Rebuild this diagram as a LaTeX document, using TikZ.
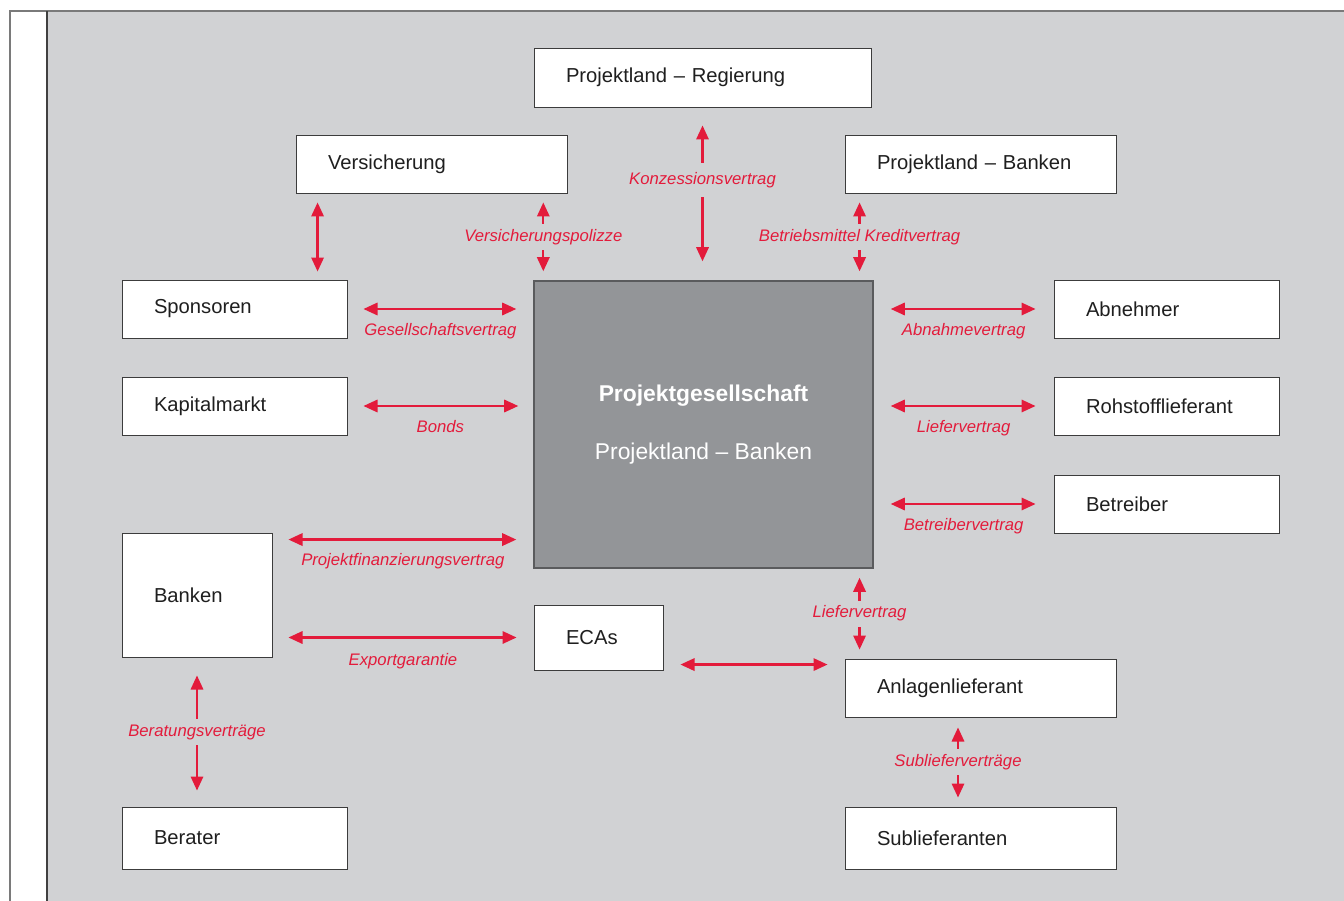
\documentclass[tikz,border=0pt]{standalone}
\usepackage{fontspec}
\setmainfont{Liberation Sans}
\usetikzlibrary{arrows.meta, calc}
\definecolor{bggray}{HTML}{D1D2D4}
\definecolor{pggray}{HTML}{939598}
\definecolor{pgline}{HTML}{5A5B5D}
\definecolor{arrred}{HTML}{E31B3B}
\definecolor{boxline}{HTML}{3C3C3C}
\definecolor{framegray}{HTML}{7A7A7A}

\begin{document}
\begin{tikzpicture}[>={Triangle[length=8pt,width=7pt]},
        box/.style={draw=boxline, line width=0.5pt, fill=white, inner xsep=0.64cm, inner ysep=0pt, align=left, text=black!88, font=\fontsize{11.5}{13.8}\selectfont, minimum height=1.16cm},
        rel/.style={<->, draw=arrred, line width=1.3pt},
        lbl/.style={text=arrred, font=\itshape\fontsize{9.5}{11}\selectfont},
        cut/.style={lbl, fill=bggray, inner xsep=1pt, inner ysep=3pt}]
        \useasboundingbox (0,0) rectangle (26.88,-18.02);
        \fill[bggray] (0.94,-0.22) rectangle (26.88,-18.02);
        \draw[framegray, line width=0.6pt] (0.2,-18.02) -- (0.2,-0.22) -- (26.88,-0.22);
        \draw[black!75, line width=0.6pt] (0.94,-0.22) -- (0.94,-18.02);

        \node[draw=pgline, line width=0.8pt, fill=pggray, minimum width=6.78cm, minimum height=5.74cm, align=center, text=white, font=\fontsize{13}{15.6}\selectfont] (pg) at (14.07,-8.49) {\textbf{Projektgesellschaft}\\[17pt]Projektland – Banken};

        \node[box, text width=5.46cm, minimum height=1.18cm] (reg) at (14.05,-1.55) {Projektland – Regierung};
        \node[box, text width=4.14cm] (vers) at (8.63,-3.28) {Versicherung};
        \node[box, text width=4.14cm] (plb) at (19.61,-3.28) {Projektland – Banken};
        \node[box, text width=3.22cm] (spon) at (4.69,-6.18) {Sponsoren};
        \node[box, text width=3.22cm] (kap) at (4.69,-8.12) {Kapitalmarkt};
        \node[box, text width=1.72cm, minimum height=2.48cm] (bank) at (3.94,-11.9) {Banken};
        \node[box, text width=3.22cm, minimum height=1.24cm] (ber) at (4.69,-16.76) {Berater};
        \node[box, text width=3.22cm] (abn) at (23.33,-6.18) {Abnehmer};
        \node[box, text width=3.22cm] (roh) at (23.33,-8.12) {Rohstofflieferant};
        \node[box, text width=3.22cm] (betr) at (23.33,-10.08) {Betreiber};
        \node[box, text width=1.3cm, minimum height=1.3cm] (eca) at (11.97,-12.75) {ECAs};
        \node[box, text width=4.14cm] (anl) at (19.61,-13.76) {Anlagenlieferant};
        \node[box, text width=4.14cm, minimum height=1.24cm] (sub) at (19.61,-16.76) {Sublieferanten};

        \draw[rel, shorten <=0.36cm, shorten >=0.38cm] (reg.south) -- (reg.south |- pg.north) node[cut, pos=0.42, inner ysep=5pt] {Konzessionsvertrag};
        \draw[rel, shorten <=0.18cm, shorten >=0.18cm] ($(vers.south -| pg.west)+(0.2,0)$) -- ($(pg.north west)+(0.2,0)$) node[cut, midway] {Versicherungspolizze};
        \draw[rel, shorten <=0.18cm, shorten >=0.18cm] ($(plb.south west)+(0.3,0)$) -- ($(plb.south west |- pg.north)+(0.3,0)$) node[cut, midway] {Betriebsmittel Kreditvertrag};
        \draw[rel, shorten <=0.18cm, shorten >=0.16cm] ($(vers.south west)+(0.44,0)$) -- ($(vers.south west |- spon.north)+(0.44,0)$);

        \draw[rel, shorten <=0.32cm, shorten >=0.34cm] (spon.east) -- (spon.east -| pg.west) node[lbl, midway, below=4pt] {Gesellschaftsvertrag};
        \draw[rel, shorten <=0.32cm, shorten >=0.3cm] (kap.east) -- (kap.east -| pg.west) node[lbl, midway, below=4pt] {Bonds};
        \draw[rel, shorten <=0.32cm, shorten >=0.34cm] ($(bank.north east)+(0,-0.14)$) -- ($(bank.north east -| pg.west)+(0,-0.14)$) node[lbl, midway, below=4pt] {Projektfinanzierungsvertrag};
        \draw[rel, shorten <=0.32cm, shorten >=0.34cm] (bank.east |- eca.west) -- (eca.west) node[lbl, midway, below=5pt] {Exportgarantie};
        \draw[rel, shorten <=0.34cm, shorten >=0.34cm] ($(eca.east |- anl.north)+(0,-0.12)$) -- ($(anl.north west)+(0,-0.12)$);

        \draw[rel, shorten <=0.34cm, shorten >=0.36cm] (pg.east |- abn.west) -- (abn.west) node[lbl, midway, below=4pt] {Abnahmevertrag};
        \draw[rel, shorten <=0.34cm, shorten >=0.36cm] (pg.east |- roh.west) -- (roh.west) node[lbl, midway, below=4pt] {Liefervertrag};
        \draw[rel, shorten <=0.34cm, shorten >=0.36cm] (pg.east |- betr.west) -- (betr.west) node[lbl, midway, below=4pt] {Betreibervertrag};

        \draw[rel, shorten <=0.18cm, shorten >=0.18cm] ($(anl.north west |- pg.south)+(0.3,0)$) -- ($(anl.north west)+(0.3,0)$) node[cut, midway] {Liefervertrag};
        \draw[rel, shorten <=0.2cm, shorten >=0.18cm] ($(anl.south)+(-0.45,0)$) -- ($(sub.north)+(-0.45,0)$) node[cut, midway] {Sublieferverträge};
        \draw[rel, shorten <=0.36cm, shorten >=0.32cm] (bank.south) -- (bank.south |- ber.north) node[cut, midway] {Beratungsverträge};
    \end{tikzpicture}
\end{document}
